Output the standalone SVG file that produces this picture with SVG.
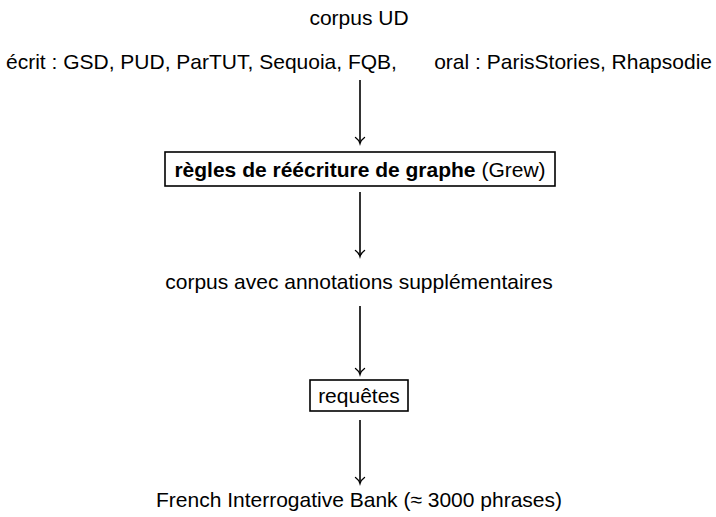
<svg xmlns="http://www.w3.org/2000/svg" width="716" height="517" viewBox="0 0 716 517">
<style>
text{font-family:"Liberation Sans",Arial,sans-serif;font-size:21px;fill:#000}
.b{font-weight:bold}
.box{fill:#fff;stroke:#000;stroke-width:1.6}
.edge{stroke:#000;stroke-width:1.6;fill:none}
.head{stroke:#000;stroke-width:1.4;fill:none;stroke-linecap:round}
</style>
<rect width="716" height="517" fill="#fff"/>
<g id="corpus-ud">
<text x="359" y="25" text-anchor="middle">corpus UD</text>
<text x="6" y="69">écrit : GSD, PUD, ParTUT, Sequoia, FQB,</text>
<text x="712" y="69" text-anchor="end">oral : ParisStories, Rhapsodie</text>
</g>
<g id="regles">
<rect class="box" x="165" y="152" width="390" height="34"/>
<text x="360" y="177" text-anchor="middle"><tspan class="b">règles de réécriture de graphe</tspan> (Grew)</text>
</g>
<g id="corpus-annot">
<text x="359" y="289" text-anchor="middle">corpus avec annotations supplémentaires</text>
</g>
<g id="requetes">
<rect class="box" x="310" y="380" width="98" height="31"/>
<text x="359" y="403" text-anchor="middle">requêtes</text>
</g>
<g id="fib">
<text x="359" y="507" text-anchor="middle">French Interrogative Bank (≈ 3000 phrases)</text>
</g>
<g id="connectors">
<path class="edge" d="M360 80V143"/>
<path class="head" d="M355.5 137.5Q359 140 360 143.5Q361 140 364.5 137.5"/>
<path class="edge" d="M360 192V256"/>
<path class="head" d="M355.5 250.5Q359 253 360 256.5Q361 253 364.5 250.5"/>
<path class="edge" d="M360 306V374"/>
<path class="head" d="M355.5 368.5Q359 371 360 374.5Q361 371 364.5 368.5"/>
<path class="edge" d="M360 420V483"/>
<path class="head" d="M355.5 477.5Q359 480 360 483.5Q361 480 364.5 477.5"/>
</g>
</svg>
